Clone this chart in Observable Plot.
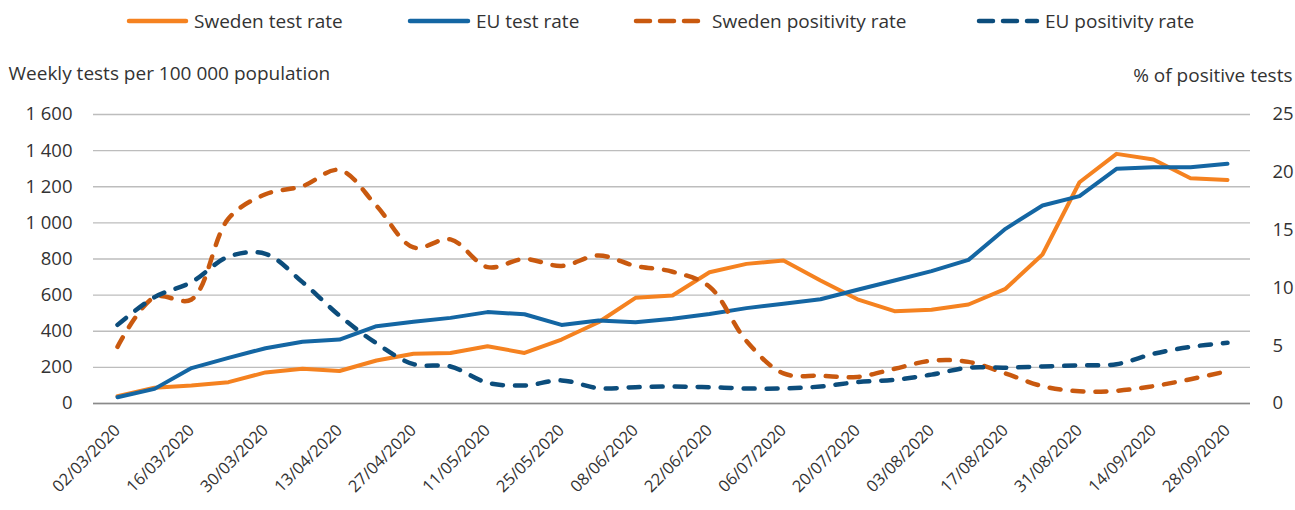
<!DOCTYPE html>
<html>
<head>
<meta charset="utf-8">
<script src="https://cdn.jsdelivr.net/npm/d3@7"></script>
<script src="https://cdn.jsdelivr.net/npm/@observablehq/plot@0.6"></script>
<style>
  html, body { margin: 0; padding: 0; background: #fff; }
  body { width: 1295px; height: 510px; position: relative; overflow: hidden; font-family: "Open Sans", sans-serif; }
  #legend { position: relative; height: 44px; }
  .item { position: absolute; top: 8px; display: flex; align-items: center; font-size: 19px; color: #333; white-space: nowrap; }
  .item svg { margin-right: 5px; }
  #chart svg { display: block; }
</style>
</head>
<body>
<div id="legend"></div>
<div id="chart"></div>
<script>
const dates = ["02/03/2020","09/03/2020","16/03/2020","23/03/2020","30/03/2020","06/04/2020","13/04/2020","20/04/2020","27/04/2020","04/05/2020","11/05/2020","18/05/2020","25/05/2020","01/06/2020","08/06/2020","15/06/2020","22/06/2020","29/06/2020","06/07/2020","13/07/2020","20/07/2020","27/07/2020","03/08/2020","10/08/2020","17/08/2020","24/08/2020","31/08/2020","07/09/2020","14/09/2020","21/09/2020","28/09/2020"];
const tickDates = ["02/03/2020","16/03/2020","30/03/2020","13/04/2020","27/04/2020","11/05/2020","25/05/2020","08/06/2020","22/06/2020","06/07/2020","20/07/2020","03/08/2020","17/08/2020","31/08/2020","14/09/2020","28/09/2020"];
const swedenTest = [40, 87, 100, 118, 172, 192, 180, 238, 275, 280, 317, 280, 354, 450, 585, 598, 727, 773, 792, 681, 577, 511, 519, 548, 635, 825, 1225, 1382, 1351, 1247, 1238];
const euTest = [35, 81, 196, 253, 306, 342, 354, 428, 452, 474, 506, 494, 435, 459, 450, 469, 496, 528, 552, 577, 630, 681, 733, 795, 967, 1096, 1148, 1299, 1308, 1308, 1327];
const swedenPos = [4.9, 9.2, 9.0, 16.0, 18.1, 18.8, 20.2, 17.1, 13.5, 14.2, 11.8, 12.5, 11.9, 12.8, 11.9, 11.4, 10.1, 5.4, 2.6, 2.4, 2.3, 3.0, 3.7, 3.6, 2.6, 1.5, 1.05, 1.1, 1.5, 2.1, 2.8];
const euPos = [6.8, 9.2, 10.5, 12.7, 12.95, 10.5, 7.6, 5.2, 3.4, 3.2, 1.8, 1.56, 2.0, 1.33, 1.41, 1.47, 1.41, 1.3, 1.3, 1.47, 1.85, 2.05, 2.5, 3.1, 3.1, 3.2, 3.3, 3.4, 4.3, 4.9, 5.25];
const leftTicks = [0, 200, 400, 600, 800, 1000, 1200, 1400, 1600];
const rightTicks = [0, 5, 10, 15, 20, 25];
const leftMax = 1600, rightMax = 25;
const k = leftMax / rightMax;

const series = [
  {name: "Sweden test rate", values: swedenTest, color: "#F58220", dash: null, scale: 1, left: 126, textX: 194},
  {name: "EU test rate", values: euTest, color: "#1466A3", dash: null, scale: 1, left: 407, textX: 476},
  {name: "Sweden positivity rate", values: swedenPos, color: "#C9590F", dash: "11,12", scale: k, left: 633, textX: 712},
  {name: "EU positivity rate", values: euPos, color: "#0C4D7C", dash: "11,12", scale: k, left: 976, textX: 1045}
];

// Legend
const legend = document.getElementById("legend");
for (const s of series) {
  const div = document.createElement("div");
  div.className = "item";
  div.style.left = s.left + "px";
  const w = s.textX - s.left - 5;
  div.innerHTML = `<svg width="${w}" height="10"><line x1="3" y1="5" x2="${w-3}" y2="5" stroke="${s.color}" stroke-width="4.5" stroke-linecap="round" ${s.dash ? 'stroke-dasharray="14,10"' : ''}/></svg><span>${s.name}</span>`;
  legend.appendChild(div);
}

const rows = s => dates.map((d, i) => ({date: d, v: s.values[i] * s.scale}));
const fmt = d3.format(",");

const marks = [
  Plot.gridY(leftTicks, {stroke: "#bdbdbd", strokeOpacity: 1, strokeWidth: 1.3}),
  Plot.ruleY([0], {stroke: "#8a8a8a", strokeWidth: 1.5}),
  Plot.axisY(leftTicks, {anchor: "left", tickSize: 0, tickPadding: 21, tickFormat: d => fmt(d).replace(",", " "), fontSize: 18.5, fill: "#333", label: null}),
  Plot.axisY(rightTicks.map(d => d * k), {anchor: "right", tickSize: 0, tickPadding: 22, tickFormat: d => String(Math.round(d / k)), fontSize: 18.5, fill: "#333", label: null}),
  Plot.axisX(tickDates, {tickSize: 0, tickRotate: -45, tickPadding: 24, fontSize: 16.5, fill: "#333", label: null}),
  Plot.text(["Weekly tests per 100 000 population"], {frameAnchor: "top-left", lineAnchor: "middle", dx: -85, dy: -41, textAnchor: "start", fontSize: 19, fill: "#333"}),
  Plot.text(["% of positive tests"], {frameAnchor: "top-right", lineAnchor: "middle", dx: 42, dy: -39, textAnchor: "end", fontSize: 19, fill: "#333"})
];
for (const s of series) {
  marks.push(Plot.lineY(rows(s), {
    x: "date", y: "v", stroke: s.color, strokeWidth: s.dash ? 4.5 : 4,
    strokeDasharray: s.dash, strokeLinecap: "round", strokeLinejoin: "round",
    curve: s.dash ? "catmull-rom" : "linear"
  }));
}

const chart = Plot.plot({
  width: 1295,
  height: 466,
  marginTop: 70,
  marginBottom: 107,
  marginLeft: 93,
  marginRight: 45,
  style: {fontFamily: "'Open Sans', sans-serif", background: "#fff"},
  x: {type: "point", domain: dates, padding: 0.5},
  y: {domain: [0, leftMax]},
  marks
});
document.getElementById("chart").appendChild(chart);
</script>
</body>
</html>
